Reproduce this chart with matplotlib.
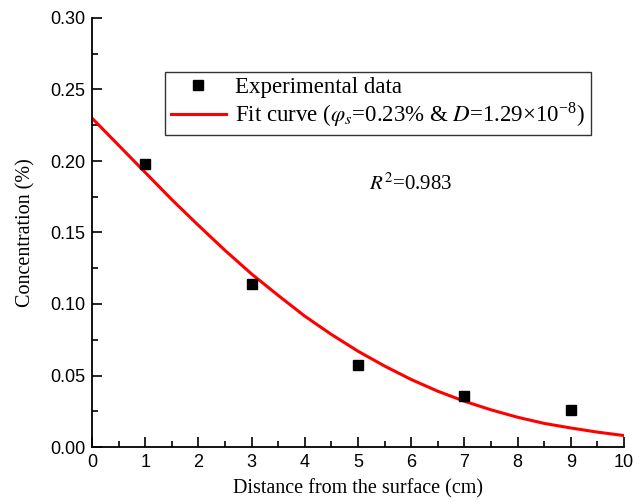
import matplotlib
matplotlib.use("Agg")
import matplotlib.pyplot as plt
from matplotlib.ticker import MultipleLocator

plt.rcParams['mathtext.fontset'] = 'stix'

# experimental points
x_exp = [1, 3, 5, 7, 9]
y_exp = [0.198, 0.114, 0.057, 0.036, 0.026]

# fit curve
x_fit = [0, 0.5, 1, 1.5, 2, 2.5, 3, 3.5, 4, 4.5, 5, 5.5, 6, 6.5, 7, 7.5, 8, 8.5, 9, 9.5, 10]
y_fit = [0.230, 0.211, 0.192, 0.173, 0.155, 0.1375, 0.121, 0.106, 0.0915, 0.0787, 0.067,
         0.0566, 0.0472, 0.039, 0.032, 0.026, 0.0208, 0.0165, 0.0133, 0.0104, 0.008]

serif = 'Liberation Serif'
sans = 'Liberation Sans'

fig = plt.figure(figsize=(6.42, 5.03), dpi=100)
ax = fig.add_axes([92/642, 1 - 447/503, (624-92)/642, (447-18)/503])

ax.plot(x_fit, y_fit, color='#ff0000', lw=2.2,
        label=r'Fit curve ($\varphi_s$=0.23% & $D$=1.29×10$^{\mathregular{-8}}$)')
ax.plot(x_exp, y_exp, 's', color='black', ms=6.5, ls='none', label='Experimental data')

ax.set_xlim(0, 10)
ax.set_ylim(0, 0.30)
ax.xaxis.set_major_locator(MultipleLocator(1))
ax.xaxis.set_minor_locator(MultipleLocator(0.5))
ax.yaxis.set_major_locator(MultipleLocator(0.05))
ax.yaxis.set_minor_locator(MultipleLocator(0.025))
ax.yaxis.set_major_formatter(matplotlib.ticker.FormatStrFormatter('%.2f'))

for s in ['top', 'right']:
    ax.spines[s].set_visible(False)
for s in ['left', 'bottom']:
    ax.spines[s].set_linewidth(1.3)

ax.tick_params(which='major', direction='in', length=7, width=1.2, labelsize=13, pad=5)
ax.tick_params(which='minor', direction='in', length=4, width=1.2)
for lab in ax.get_xticklabels() + ax.get_yticklabels():
    lab.set_fontfamily(sans)

ax.set_xlabel('Distance from the surface (cm)', fontsize=14.5, family=serif, labelpad=6)
ax.set_ylabel('Concentration (%)', fontsize=14.5, family=serif, labelpad=10)

handles, labels = ax.get_legend_handles_labels()
leg = ax.legend(handles[::-1], labels[::-1], loc='upper left', bbox_to_anchor=(0.137, 0.875),
                prop={'family': serif, 'size': 16.5}, frameon=True, fancybox=False,
                handlelength=2.4, handletextpad=0.4, borderpad=0.25, labelspacing=0.1,
                borderaxespad=0)
leg.get_frame().set_edgecolor('black')
leg.get_frame().set_linewidth(1.0)

ax.text(0.52, 0.60, r'$R^2$=0.983', transform=ax.transAxes, fontsize=15, family=serif)

fig.savefig('out.png', dpi=100)
